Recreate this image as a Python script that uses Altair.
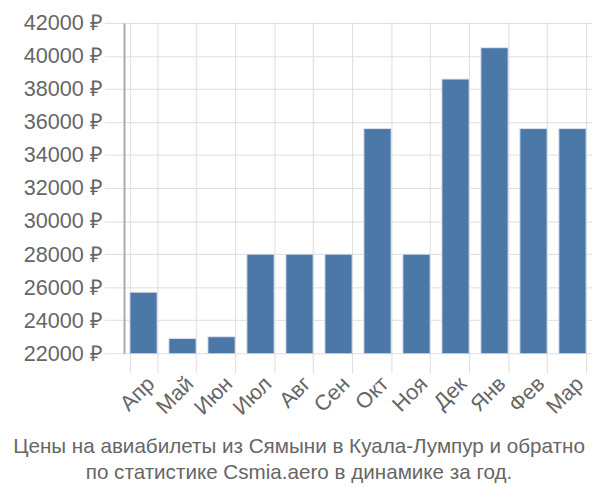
import altair as alt
import pandas as pd

months = ["Апр", "Май", "Июн", "Июл", "Авг", "Сен", "Окт", "Ноя", "Дек", "Янв", "Фев", "Мар"]
prices = [25700, 22900, 23000, 28000, 28000, 28000, 35600, 28000, 38600, 40500, 35600, 35600]
y_ticks = [22000, 24000, 26000, 28000, 30000, 32000, 34000, 36000, 38000, 40000, 42000]
title_lines = ["Цены на авиабилеты из Сямыни в Куала-Лумпур и обратно",
               "по статистике Csmia.aero в динамике за год."]

df = pd.DataFrame({"month": months, "price": prices})

chart = alt.Chart(df).mark_bar(
    color="#4c78a8", stroke="#dfe6f0", strokeWidth=1, clip=True
).encode(
    x=alt.X("month:N", sort=months, title=None,
            scale=alt.Scale(paddingInner=0.3, paddingOuter=0.15),
            axis=alt.Axis(labelAngle=-45, labelFontSize=22, labelColor="#666",
                          labelFont="Liberation Sans", tickBand="extent", grid=True,
                          gridColor="#ddd", tickColor="#ddd", tickSize=20,
                          domain=False, labelPadding=0)),
    y=alt.Y("price:Q", title=None,
            scale=alt.Scale(domain=[22000, 42000], zero=False, nice=False),
            axis=alt.Axis(values=y_ticks, labelExpr="datum.value + ' ₽'",
                          labelFontSize=22, labelColor="#666", labelFont="Liberation Sans",
                          gridColor="#ddd", tickColor="#ddd", tickSize=20,
                          domainColor="#aaa", domainWidth=2, labelPadding=2)),
).properties(
    width=476, height=336,
    padding={"left": 4, "top": 0, "right": 0, "bottom": 5},
    title=alt.TitleParams(text=title_lines, orient="bottom", fontSize=21,
                          font="Liberation Sans", fontWeight="normal",
                          color="#666", anchor="middle", offset=18, lineHeight=27,
                          dx=-60),
).configure_view(stroke=None)

chart.save("out.html", embed_options={"renderer": "svg", "actions": False})
